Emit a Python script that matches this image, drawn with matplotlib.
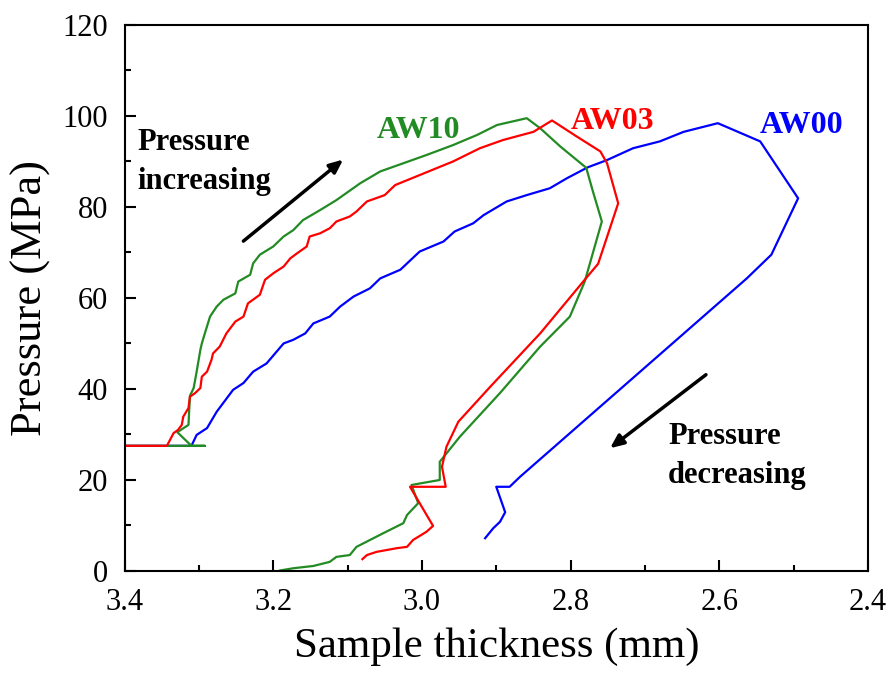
import matplotlib
matplotlib.use("Agg")
import matplotlib.pyplot as plt
from matplotlib.ticker import MultipleLocator

# sample thickness (mm) / pressure (MPa)
aw00_x = [3.400, 3.310, 3.303, 3.289, 3.276, 3.254, 3.240, 3.227, 3.209, 3.186,
          3.173, 3.157, 3.146, 3.124, 3.110, 3.092, 3.070, 3.056, 3.029, 3.003,
          2.971, 2.956, 2.931, 2.917, 2.886, 2.859, 2.828, 2.805, 2.777, 2.751,
          2.716, 2.680, 2.648, 2.602, 2.545, 2.494, 2.530, 2.563, 2.868, 2.882,
          2.900, 2.888, 2.895, 2.904, 2.915]
aw00_y = [27.5, 27.5, 29.9, 31.4, 35.0, 39.8, 41.3, 43.8, 45.6, 50.0,
          50.8, 52.2, 54.4, 55.9, 58.1, 60.3, 62.1, 64.3, 66.2, 70.2,
          72.4, 74.6, 76.4, 78.2, 81.2, 82.6, 84.1, 86.3, 88.7, 90.3,
          92.9, 94.4, 96.5, 98.4, 94.4, 81.9, 69.5, 64.3, 20.7, 18.5,
          18.5, 12.9, 10.8, 9.4, 7.2]

aw10_x = [3.400, 3.292, 3.310, 3.329, 3.314, 3.312, 3.307, 3.303, 3.298, 3.296,
          3.292, 3.285, 3.276, 3.267, 3.251, 3.247, 3.231, 3.227, 3.218, 3.200,
          3.186, 3.173, 3.160, 3.137, 3.115, 3.083, 3.056, 3.025, 2.994, 2.958,
          2.926, 2.899, 2.859, 2.841, 2.814, 2.779, 2.770, 2.758, 2.781, 2.801,
          2.841, 2.895, 2.949, 2.976, 2.976, 3.014, 3.005, 3.020, 3.025, 3.052,
          3.088, 3.097, 3.115, 3.124, 3.146, 3.173, 3.191]
aw10_y = [27.5, 27.5, 27.5, 30.5, 32.1, 38.5, 40.2, 43.8, 48.6, 50.0,
          52.2, 55.9, 58.1, 59.6, 61.0, 63.6, 65.1, 67.6, 69.5, 71.3,
          73.5, 74.9, 77.1, 79.3, 81.5, 85.2, 87.8, 89.6, 91.4, 93.6,
          95.8, 98.0, 99.5, 97.3, 93.3, 88.6, 83.4, 76.8, 63.6, 55.9,
          49.3, 39.1, 29.5, 24.0, 20.0, 18.9, 14.9, 12.3, 10.5, 8.3,
          5.3, 3.5, 3.1, 2.0, 1.1, 0.6, 0.1]

aw03_x = [3.400, 3.343, 3.334, 3.328, 3.323, 3.321, 3.314, 3.312, 3.305, 3.298,
          3.296, 3.289, 3.283, 3.281, 3.272, 3.263, 3.251, 3.240, 3.234, 3.218,
          3.211, 3.200, 3.186, 3.177, 3.168, 3.155, 3.151, 3.137, 3.124, 3.115,
          3.097, 3.088, 3.074, 3.050, 3.036, 3.003, 2.958, 2.922, 2.891, 2.850,
          2.825, 2.792, 2.760, 2.751, 2.736, 2.763, 2.781, 2.841, 2.908, 2.951,
          2.967, 2.973, 2.968, 3.016, 2.985, 2.994, 3.012, 3.020, 3.034, 3.061,
          3.074, 3.080]
aw03_y = [27.5, 27.5, 30.3, 31.0, 32.1, 33.9, 35.8, 38.3, 39.1, 40.2,
          42.7, 43.8, 46.4, 47.8, 49.3, 52.2, 54.8, 55.9, 58.8, 60.7,
          64.0, 65.4, 66.9, 68.7, 69.8, 71.3, 73.5, 74.2, 75.3, 76.8,
          77.9, 79.0, 81.2, 82.6, 84.8, 87.0, 90.0, 92.9, 94.7, 96.5,
          99.0, 95.5, 92.2, 89.6, 80.8, 67.5, 64.0, 52.2, 40.5, 32.8,
          27.3, 22.9, 18.5, 18.5, 9.9, 8.6, 6.8, 5.3, 5.0, 4.2,
          3.5, 2.6]

plt.rcParams['font.family'] = ['Liberation Serif', 'DejaVu Serif']

fig = plt.figure(figsize=(8.92, 6.73), dpi=100)
ax = fig.add_axes([0.1396, 0.1516, 0.8335, 0.8114])

ax.plot(aw00_x, aw00_y, color='#0000ff', lw=1.6)
ax.plot(aw10_x, aw10_y, color='#238b23', lw=1.6)
ax.plot(aw03_x, aw03_y, color='#ff0000', lw=1.6)

ax.set_xlim(3.4, 2.4)
ax.set_ylim(0, 120)
ax.xaxis.set_major_locator(MultipleLocator(0.2))
ax.xaxis.set_minor_locator(MultipleLocator(0.1))
ax.yaxis.set_major_locator(MultipleLocator(20))
ax.yaxis.set_minor_locator(MultipleLocator(10))
ax.xaxis.set_major_formatter(plt.FuncFormatter(lambda v, p: '%.1f' % v))
ax.tick_params(which='both', direction='in', width=1.5, labelsize=22)
ax.tick_params(axis='x', which='major', length=8, pad=12)
ax.tick_params(axis='y', which='major', length=8, pad=12)
ax.tick_params(which='minor', length=4)
for s in ax.spines.values():
    s.set_linewidth(1.5)

ax.set_xlabel('Sample thickness (mm)', fontsize=31, labelpad=8)
ax.set_ylabel('Pressure (MPa)', fontsize=32, labelpad=8)

lab = dict(fontsize=23, fontweight='bold', ha='center', va='center')
ax.text(3.005, 96.7, 'AW10', color='#238b23', **lab)
ax.text(2.744, 98.7, 'AW03', color='#ff0000', **lab)
ax.text(2.489, 97.8, 'AW00', color='#0000ff', **lab)

ax.text(3.383, 89.8, 'Pressure\nincreasing', fontsize=22, fontweight='bold',
        ha='left', va='center', linespacing=1.45)
ax.text(2.669, 25.3, 'Pressure\ndecreasing', fontsize=22, fontweight='bold',
        ha='left', va='center', linespacing=1.45)

arrow = dict(arrowstyle='-|>,head_length=0.8,head_width=0.35', color='black', lw=2.5)
ax.annotate('', xy=(3.103, 90.8), xytext=(3.243, 72.1), arrowprops=arrow)
ax.annotate('', xy=(2.750, 26.6), xytext=(2.615, 43.5), arrowprops=arrow)

fig.savefig('out.png', dpi=100)
